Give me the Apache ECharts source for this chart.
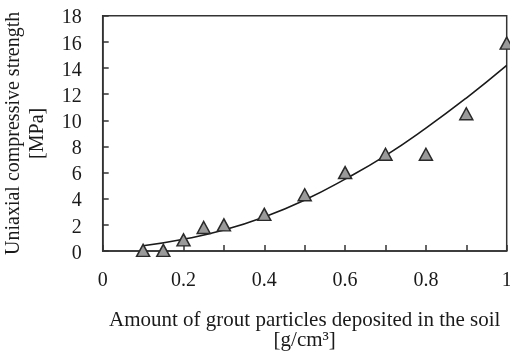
<!DOCTYPE html>
<html><head><meta charset="utf-8">
<script src="https://cdn.jsdelivr.net/npm/echarts@6/dist/echarts.min.js"></script>
<style>html,body{margin:0;padding:0;background:#fff}#c{width:510px;height:351px}</style>
</head><body><div id="c"></div>
<script>
const measuredX = [0.1, 0.15, 0.2, 0.25, 0.3, 0.4, 0.5, 0.6, 0.7, 0.8, 0.9, 1.0];
const measuredY = [0.05, 0.05, 0.85, 1.8, 2.0, 2.8, 4.3, 6.0, 7.4, 7.4, 10.5, 15.9];
const fitX = [0.1, 0.2, 0.3, 0.4, 0.5, 0.6, 0.7, 0.8, 0.9, 1.0];
const fitY = [0.4, 0.9, 1.6, 2.6, 3.9, 5.5, 7.3, 9.4, 11.7, 14.2];
const xTicks = [0, 0.2, 0.4, 0.6, 0.8, 1];
const yTicks = [0, 2, 4, 6, 8, 10, 12, 14, 16, 18];

const font = 'Liberation Serif';
const txt = '#1a1a1a';
const chart = echarts.init(document.getElementById('c'), null, {renderer: 'canvas'});
chart.setOption({
  animation: false,
  grid: {left: 102.7, right: 3.3, top: 15.7, bottom: 100, show: true, borderColor: '#333', borderWidth: 1.5, containLabel: false, outerBoundsMode: 'none'},
  xAxis: {
    type: 'value', min: xTicks[0], max: xTicks[xTicks.length - 1], interval: 0.2,
    axisLine: {show: true, lineStyle: {color: '#333', width: 1.5}},
    axisTick: {show: true, inside: true, length: 6, lineStyle: {color: '#333', width: 1.5}},
    minorTick: {show: true, splitNumber: 2, length: 6, lineStyle: {color: '#333', width: 1.5}},
    splitLine: {show: false},
    axisLabel: {fontFamily: font, fontSize: 20, color: txt, margin: 20, formatter: v => String(v)},
    name: 'Amount of grout particles deposited in the soil\n[g/cm³]',
    nameLocation: 'middle', nameGap: 59,
    nameTextStyle: {fontFamily: font, fontSize: 21, color: txt, lineHeight: 20}
  },
  yAxis: {
    type: 'value', min: yTicks[0], max: yTicks[yTicks.length - 1], interval: 2,
    axisLine: {show: true, lineStyle: {color: '#333', width: 1.5}},
    axisTick: {show: true, inside: true, length: 6, lineStyle: {color: '#333', width: 1.5}},
    splitLine: {show: false},
    axisLabel: {fontFamily: font, fontSize: 20, color: txt, margin: 21, verticalAlign: 'top', lineHeight: 5},
    name: 'Uniaxial compressive strength\n[MPa]',
    nameLocation: 'middle', nameRotate: 90, nameGap: 53,
    nameTextStyle: {fontFamily: font, fontSize: 20, color: txt, lineHeight: 24}
  },
  series: [
    {
      type: 'line', data: fitX.map((x, i) => [x, fitY[i]]), smooth: true, showSymbol: false,
      lineStyle: {color: '#1a1a1a', width: 1.6}, z: 2
    },
    {
      type: 'scatter', data: measuredX.map((x, i) => [x, measuredY[i]]), symbol: 'triangle', symbolSize: [13, 12],
      itemStyle: {color: '#9a9a9a', borderColor: '#2a2a2a', borderWidth: 1.5, opacity: 1}, z: 3
    }
  ]
});
</script></body></html>
